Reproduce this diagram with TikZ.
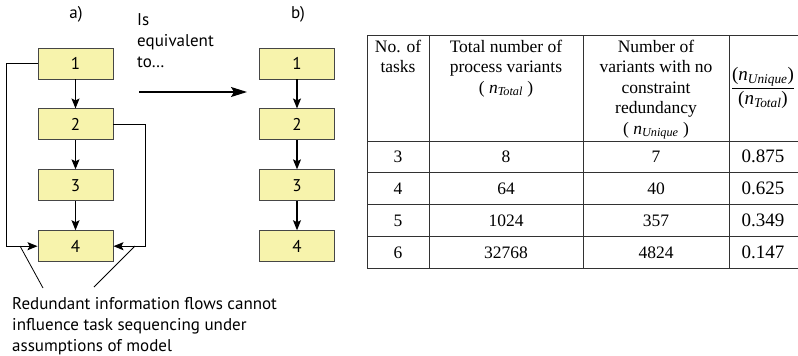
\documentclass[tikz,border=0pt]{standalone}
\usepackage{fontspec}
\setmainfont{Liberation Serif}
\newfontfamily\labelfont{PT Sans}
\usetikzlibrary{shapes,arrows,arrows.meta,positioning,calc}
\definecolor{taskfill}{RGB}{247, 243, 172}
\definecolor{taskdraw}{RGB}{70, 70, 70}
\definecolor{gridline}{RGB}{50, 50, 50}

\begin{document}
\begin{tikzpicture}[x=1pt, y=-1pt, >={Stealth[length=10pt, width=8pt, inset=2pt]}]
    \tikzstyle{task} = [rectangle, draw=taskdraw, fill=taskfill, line width=0.9pt, minimum width=75pt, minimum height=31pt, inner sep=0pt, font=\labelfont\fontsize{17}{20}\selectfont]
    \tikzstyle{line} = [draw, ->, line width=1.1pt]
    \tikzstyle{note} = [font=\labelfont\fontsize{17}{21}\selectfont, inner sep=0pt, align=left]
    \tikzstyle{cell} = [font=\fontsize{17.5}{20.5}\selectfont, inner sep=0pt, align=center]
    \tikzstyle{ratio} = [font=\fontsize{19}{21}\selectfont, inner sep=0pt]

    \useasboundingbox (0,0) rectangle (798,356);

    % a) with the redundant flows
    \node [note] (lbla) at (76,14) {a)};
    \node [task] (a1) at (75.5,63.5) {1};
    \node [task, below=29pt of a1] (a2) {2};
    \node [task, below=29pt of a2] (a3) {3};
    \node [task, below=29pt of a3] (a4) {4};

    \path [line] (a1) -- (a2);
    \path [line] (a2) -- (a3);
    \path [line] (a3) -- (a4);
    \path [line] (a1.west) -- ++(-31,0) |- (a4.west);
    \path [line] (a2.east) -- ++(32,0) |- (a4.east);

    % callout to the note
    \coordinate (cla) at (20,246);
    \coordinate (clb) at (135,246);
    \coordinate (cna) at (43,288);
    \coordinate (cnb) at (94,287);
    \draw [line width=0.8pt] (cla) -- (cna);
    \draw [line width=0.8pt] (clb) -- (cnb);
    \node [note, anchor=north west] (redund) at (12,297) {Redundant information flows cannot\\influence task sequencing under\\assumptions of model};

    % equivalence arrow
    \node [note, anchor=north west] (equiv) at (137,13) {Is\\equivalent\\to\ldots};
    \coordinate (eqa) at (139,92);
    \coordinate (eqb) at (247,92);
    \path [line, line width=1.2pt, -{Stealth[length=16pt, width=10pt, inset=3pt]}] (eqa) -- (eqb);

    % b) reduced chain
    \node [note] (lblb) at (298,14) {b)};
    \node [task] (b1) at (297,63.5) {1};
    \node [task, below=29pt of b1] (b2) {2};
    \node [task, below=29pt of b2] (b3) {3};
    \node [task, below=29pt of b3] (b4) {4};

    \path [line] (b1) -- (b2);
    \path [line] (b2) -- (b3);
    \path [line] (b3) -- (b4);

    % table
    \draw [gridline, line width=0.9pt] (367,35) -- (798,35);
    \foreach \yy in {141,172.5,204.5,236.5,268.5}
      \draw [gridline, line width=0.9pt] (367,\yy) -- (798,\yy);
    \foreach \xx in {367,429.5,583,729}
      \draw [gridline, line width=0.9pt] (\xx,35) -- (\xx,268.5);

    \node [cell, anchor=north] (hno) at (398,39.5) {No. of\\tasks};
    \node [cell, anchor=north] (htot) at (506,39.5) {Total number of\\process variants\\( \textit{n}\textsubscript{\textit{Total}} )};
    \node [cell, anchor=north] (huni) at (656,39.5) {Number of\\variants with no\\constraint\\redundancy\\( \textit{n}\textsubscript{\textit{Unique}} )};
    \node [ratio] (hrat) at (763,88) {$\displaystyle{\hbox{(\textit{n}\textsubscript{\textit{Unique}})}\over\hbox{(\textit{n}\textsubscript{\textit{Total}})}}$};

    \foreach \n/\tot/\uni/\rat [count=\r] in {3/8/7/0.875, 4/64/40/0.625, 5/1024/357/0.349, 6/32768/4824/0.147} {
      \node [cell] (no\r) at (398,{156.5+32*(\r-1)}) {\n};
      \node [cell] (tot\r) at (506,{156.5+32*(\r-1)}) {\tot};
      \node [cell] (uni\r) at (656,{156.5+32*(\r-1)}) {\uni};
      \node [ratio] (rat\r) at (763,{156.5+32*(\r-1)}) {\rat};
    }
\end{tikzpicture}
\end{document}
